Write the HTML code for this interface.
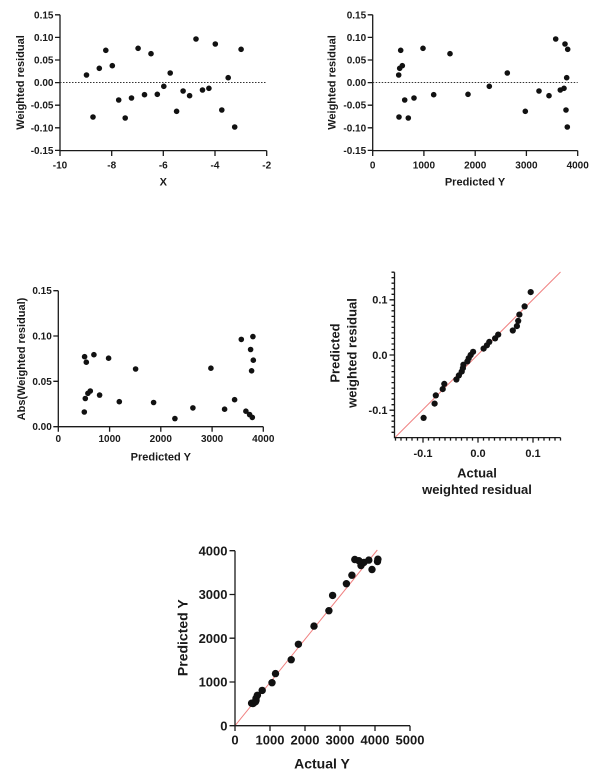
<!DOCTYPE html>
<html><head><meta charset="utf-8"><style>
html,body{margin:0;padding:0;background:#fff;}
svg{display:block;}
text{font-family:"Liberation Sans",Arial,sans-serif;font-weight:bold;fill:#1a1a1a;}
.t10{font-size:10px;}
.t11{font-size:11px;}
.t13{font-size:13px;}
.t14{font-size:14px;}
.ax{stroke:#1a1a1a;stroke-width:1.3;fill:none;}
.pt{fill:#111;}
</style></head><body>
<svg width="602" height="772" viewBox="0 0 602 772" xmlns="http://www.w3.org/2000/svg">

<!-- ========== Plot 1 ========== -->
<g>
<path class="ax" d="M60,14.8 V150.6 H266.7"/>
<path class="ax" d="M55,14.8H60 M55,37.4H60 M55,60H60 M55,82.6H60 M55,105.2H60 M55,127.8H60 M55,150.4H60"/>
<path class="ax" d="M60,150.6V156 M111.7,150.6V156 M163.3,150.6V156 M215,150.6V156 M266.7,150.6V156"/>
<line x1="60" y1="82.5" x2="266.7" y2="82.5" stroke="#333" stroke-width="1" stroke-dasharray="1.5 1.5"/>
<g class="t10" text-anchor="end">
<text x="53.5" y="14.8" dy=".35em">0.15</text>
<text x="53.5" y="37.4" dy=".35em">0.10</text>
<text x="53.5" y="60" dy=".35em">0.05</text>
<text x="53.5" y="82.6" dy=".35em">0.00</text>
<text x="53.5" y="105.2" dy=".35em">-0.05</text>
<text x="53.5" y="127.8" dy=".35em">-0.10</text>
<text x="53.5" y="150.4" dy=".35em">-0.15</text>
</g>
<g class="t10" text-anchor="middle">
<text x="60" y="165" dy=".35em">-10</text>
<text x="111.7" y="165" dy=".35em">-8</text>
<text x="163.3" y="165" dy=".35em">-6</text>
<text x="215" y="165" dy=".35em">-4</text>
<text x="266.7" y="165" dy=".35em">-2</text>
</g>
<text class="t11" x="163.3" y="181.7" dy=".35em" text-anchor="middle">X</text>
<text class="t11" transform="translate(20,82.5) rotate(-90)" dy=".35em" text-anchor="middle">Weighted residual</text>
<g class="pt">
<circle cx="86.5" cy="75" r="2.8"/><circle cx="93" cy="117" r="2.8"/><circle cx="99.3" cy="68.3" r="2.8"/>
<circle cx="105.8" cy="50.3" r="2.8"/><circle cx="112.3" cy="65.7" r="2.8"/><circle cx="118.7" cy="100" r="2.8"/>
<circle cx="125.2" cy="118" r="2.8"/><circle cx="131.5" cy="98" r="2.8"/><circle cx="138.1" cy="48.3" r="2.8"/>
<circle cx="144.5" cy="94.7" r="2.8"/><circle cx="151" cy="53.7" r="2.8"/><circle cx="157.3" cy="94.3" r="2.8"/>
<circle cx="163.8" cy="86.3" r="2.8"/><circle cx="170.2" cy="73" r="2.8"/><circle cx="176.6" cy="111.3" r="2.8"/>
<circle cx="183.1" cy="91" r="2.8"/><circle cx="189.6" cy="95.7" r="2.8"/><circle cx="196" cy="39" r="2.8"/>
<circle cx="202.5" cy="90" r="2.8"/><circle cx="208.9" cy="88.3" r="2.8"/><circle cx="215.3" cy="44" r="2.8"/>
<circle cx="221.8" cy="110" r="2.8"/><circle cx="228.2" cy="77.7" r="2.8"/><circle cx="234.7" cy="127" r="2.8"/>
<circle cx="241.1" cy="49.3" r="2.8"/>
</g>
</g>

<!-- ========== Plot 2 ========== -->
<g>
<path class="ax" d="M372.7,14.8 V150.6 H577.7"/>
<path class="ax" d="M367.7,14.8H372.7 M367.7,37.4H372.7 M367.7,60H372.7 M367.7,82.6H372.7 M367.7,105.2H372.7 M367.7,127.8H372.7 M367.7,150.4H372.7"/>
<path class="ax" d="M372.7,150.6V156 M423.9,150.6V156 M475.2,150.6V156 M526.4,150.6V156 M577.7,150.6V156"/>
<line x1="372.7" y1="82.5" x2="577.7" y2="82.5" stroke="#333" stroke-width="1" stroke-dasharray="1.5 1.5"/>
<g class="t10" text-anchor="end">
<text x="366.2" y="14.8" dy=".35em">0.15</text>
<text x="366.2" y="37.4" dy=".35em">0.10</text>
<text x="366.2" y="60" dy=".35em">0.05</text>
<text x="366.2" y="82.6" dy=".35em">0.00</text>
<text x="366.2" y="105.2" dy=".35em">-0.05</text>
<text x="366.2" y="127.8" dy=".35em">-0.10</text>
<text x="366.2" y="150.4" dy=".35em">-0.15</text>
</g>
<g class="t10" text-anchor="middle">
<text x="372.7" y="165" dy=".35em">0</text>
<text x="423.9" y="165" dy=".35em">1000</text>
<text x="475.2" y="165" dy=".35em">2000</text>
<text x="526.4" y="165" dy=".35em">3000</text>
<text x="577.7" y="165" dy=".35em">4000</text>
</g>
<text class="t11" x="475" y="181.7" dy=".35em" text-anchor="middle">Predicted Y</text>
<text class="t11" transform="translate(331.7,82.5) rotate(-90)" dy=".35em" text-anchor="middle">Weighted residual</text>
<g class="pt">
<circle cx="398.7" cy="75" r="2.8"/><circle cx="399" cy="117" r="2.8"/><circle cx="399.7" cy="68.3" r="2.8"/>
<circle cx="400.7" cy="50.3" r="2.8"/><circle cx="402.3" cy="65.7" r="2.8"/><circle cx="404.7" cy="100" r="2.8"/>
<circle cx="408.3" cy="118" r="2.8"/><circle cx="414" cy="98" r="2.8"/><circle cx="423" cy="48.3" r="2.8"/>
<circle cx="433.7" cy="94.7" r="2.8"/><circle cx="450" cy="53.7" r="2.8"/><circle cx="468" cy="94.3" r="2.8"/>
<circle cx="489.3" cy="86.3" r="2.8"/><circle cx="507.3" cy="73" r="2.8"/><circle cx="525.3" cy="111.3" r="2.8"/>
<circle cx="539" cy="91" r="2.8"/><circle cx="549" cy="95.7" r="2.8"/><circle cx="555.7" cy="39" r="2.8"/>
<circle cx="560.3" cy="90" r="2.8"/><circle cx="564" cy="88.3" r="2.8"/><circle cx="565" cy="44" r="2.8"/>
<circle cx="566" cy="110" r="2.8"/><circle cx="566.7" cy="77.7" r="2.8"/><circle cx="567.3" cy="127" r="2.8"/>
<circle cx="567.7" cy="49.3" r="2.8"/>
</g>
</g>

<!-- ========== Plot 3 ========== -->
<g>
<path class="ax" d="M58.3,290.7 V426.7 H263.3"/>
<path class="ax" d="M53.3,290.7H58.3 M53.3,336H58.3 M53.3,381.3H58.3 M53.3,426.7H58.3"/>
<path class="ax" d="M58.3,426.7V431.7 M109.6,426.7V431.7 M160.8,426.7V431.7 M212.1,426.7V431.7 M263.3,426.7V431.7"/>
<g class="t10" text-anchor="end">
<text x="51.8" y="290.7" dy=".35em">0.15</text>
<text x="51.8" y="336" dy=".35em">0.10</text>
<text x="51.8" y="381.3" dy=".35em">0.05</text>
<text x="51.8" y="426.7" dy=".35em">0.00</text>
</g>
<g class="t10" text-anchor="middle">
<text x="58.3" y="438.5" dy=".35em">0</text>
<text x="109.6" y="438.5" dy=".35em">1000</text>
<text x="160.8" y="438.5" dy=".35em">2000</text>
<text x="212.1" y="438.5" dy=".35em">3000</text>
<text x="263.3" y="438.5" dy=".35em">4000</text>
</g>
<text class="t11" x="160.8" y="456.7" dy=".35em" text-anchor="middle">Predicted Y</text>
<text class="t11" transform="translate(21,359) rotate(-90)" dy=".35em" text-anchor="middle">Abs(Weighted residual)</text>
<g class="pt">
<circle cx="84.3" cy="412" r="2.8"/><circle cx="84.6" cy="356.7" r="2.8"/><circle cx="85.3" cy="398.5" r="2.8"/>
<circle cx="86.3" cy="362.2" r="2.8"/><circle cx="87.9" cy="393.3" r="2.8"/><circle cx="90.3" cy="391" r="2.8"/>
<circle cx="93.9" cy="354.7" r="2.8"/><circle cx="99.6" cy="395.1" r="2.8"/><circle cx="108.6" cy="358.2" r="2.8"/>
<circle cx="119.3" cy="401.7" r="2.8"/><circle cx="135.6" cy="369" r="2.8"/><circle cx="153.6" cy="402.5" r="2.8"/>
<circle cx="174.9" cy="418.6" r="2.8"/><circle cx="192.9" cy="407.9" r="2.8"/><circle cx="210.9" cy="368.2" r="2.8"/>
<circle cx="224.6" cy="409.2" r="2.8"/><circle cx="234.6" cy="399.7" r="2.8"/><circle cx="241.3" cy="339.4" r="2.8"/>
<circle cx="245.9" cy="411.2" r="2.8"/><circle cx="249.6" cy="414.6" r="2.8"/><circle cx="250.6" cy="349.5" r="2.8"/>
<circle cx="251.6" cy="370.8" r="2.8"/><circle cx="252.3" cy="417.4" r="2.8"/><circle cx="252.9" cy="336.6" r="2.8"/>
<circle cx="253.3" cy="360.2" r="2.8"/>
</g>
</g>

<!-- ========== Plot 4 (QQ) ========== -->
<g>
<line x1="395" y1="437.5" x2="560.5" y2="272" stroke="#f08080" stroke-width="1"/>
<path class="ax" d="M394.5,272.2 V437.6 H560.5"/>
<path class="ax" stroke-width="1.1" d="
M391.5,272.2H394.5 M391.5,277.7H394.5 M391.5,283.2H394.5 M391.5,288.8H394.5 M391.5,294.3H394.5 M389.5,299.8H394.5
M391.5,305.3H394.5 M391.5,310.8H394.5 M391.5,316.4H394.5 M391.5,321.9H394.5 M391.5,327.4H394.5 M391.5,332.9H394.5
M391.5,338.4H394.5 M391.5,344H394.5 M391.5,349.5H394.5 M389.5,355H394.5 M391.5,360.5H394.5 M391.5,366H394.5
M391.5,371.6H394.5 M391.5,377.1H394.5 M391.5,382.6H394.5 M391.5,388.1H394.5 M391.5,393.6H394.5 M391.5,399.2H394.5
M391.5,404.7H394.5 M389.5,410.2H394.5 M391.5,415.7H394.5 M391.5,421.2H394.5 M391.5,426.8H394.5 M391.5,432.3H394.5"/>
<path class="ax" stroke-width="1.1" d="
M395.5,437.6V440.6 M401,437.6V440.6 M406.5,437.6V440.6 M412,437.6V440.6 M417.5,437.6V440.6 M423,437.6V442.6
M428.5,437.6V440.6 M434,437.6V440.6 M439.5,437.6V440.6 M445,437.6V440.6 M450.5,437.6V440.6 M456,437.6V440.6
M461.5,437.6V440.6 M467,437.6V440.6 M472.5,437.6V440.6 M478,437.6V442.6 M483.5,437.6V440.6 M489,437.6V440.6
M494.5,437.6V440.6 M500,437.6V440.6 M505.5,437.6V440.6 M511,437.6V440.6 M516.5,437.6V440.6 M522,437.6V440.6
M527.5,437.6V440.6 M533,437.6V442.6 M538.5,437.6V440.6 M544,437.6V440.6 M549.5,437.6V440.6 M555,437.6V440.6 M560.5,437.6V440.6"/>
<g class="t11" text-anchor="end">
<text x="387.5" y="299.8" dy=".35em">0.1</text>
<text x="387.5" y="355" dy=".35em">0.0</text>
<text x="387.5" y="410.2" dy=".35em">-0.1</text>
</g>
<g class="t11" text-anchor="middle">
<text x="423" y="453.3" dy=".35em">-0.1</text>
<text x="478" y="453.3" dy=".35em">0.0</text>
<text x="533" y="453.3" dy=".35em">0.1</text>
</g>
<text class="t13" x="477" y="472.7" dy=".35em" text-anchor="middle">Actual</text>
<text class="t13" x="477" y="489.3" dy=".35em" text-anchor="middle">weighted residual</text>
<text class="t13" transform="translate(335,353) rotate(-90)" dy=".35em" text-anchor="middle">Predicted</text>
<text class="t13" transform="translate(351.7,353) rotate(-90)" dy=".35em" text-anchor="middle">weighted residual</text>
<g class="pt">
<circle cx="423.6" cy="417.9" r="3.1"/><circle cx="434.6" cy="403.6" r="3.1"/><circle cx="435.8" cy="395.4" r="3.1"/>
<circle cx="442.7" cy="389.1" r="3.1"/><circle cx="444.3" cy="383.9" r="3.1"/><circle cx="456.4" cy="379.5" r="3.1"/>
<circle cx="458.9" cy="375.4" r="3.1"/><circle cx="461.7" cy="371.6" r="3.1"/><circle cx="462.9" cy="368.1" r="3.1"/>
<circle cx="463.4" cy="364.7" r="3.1"/><circle cx="467.4" cy="361.4" r="3.1"/><circle cx="468.7" cy="358.2" r="3.1"/>
<circle cx="470.7" cy="355" r="3.1"/><circle cx="473.1" cy="351.8" r="3.1"/><circle cx="483.6" cy="348.6" r="3.1"/>
<circle cx="486.9" cy="345.3" r="3.1"/><circle cx="489.3" cy="341.9" r="3.1"/><circle cx="495.1" cy="338.4" r="3.1"/>
<circle cx="498.2" cy="334.6" r="3.1"/><circle cx="512.8" cy="330.5" r="3.1"/><circle cx="516.9" cy="326.1" r="3.1"/>
<circle cx="518.2" cy="320.9" r="3.1"/><circle cx="519.4" cy="314.6" r="3.1"/><circle cx="524.6" cy="306.4" r="3.1"/>
<circle cx="530.7" cy="292.1" r="3.1"/>
</g>
</g>

<!-- ========== Plot 5 ========== -->
<g>
<line x1="235" y1="725.7" x2="377.3" y2="550" stroke="#f08080" stroke-width="1"/>
<path class="ax" d="M235,550.7 V725.7 H410"/>
<path class="ax" d="M229.5,550.7H235 M229.5,594.5H235 M229.5,638.2H235 M229.5,682H235 M229.5,725.7H235"/>
<path class="ax" d="M235,725.7V731 M270,725.7V731 M305,725.7V731 M340,725.7V731 M375,725.7V731 M410,725.7V731"/>
<g class="t13" text-anchor="end">
<text x="227.5" y="550.7" dy=".35em">4000</text>
<text x="227.5" y="594.5" dy=".35em">3000</text>
<text x="227.5" y="638.2" dy=".35em">2000</text>
<text x="227.5" y="682" dy=".35em">1000</text>
<text x="227.5" y="725.7" dy=".35em">0</text>
</g>
<g class="t13" text-anchor="middle">
<text x="235" y="740" dy=".35em">0</text>
<text x="270" y="740" dy=".35em">1000</text>
<text x="305" y="740" dy=".35em">2000</text>
<text x="340" y="740" dy=".35em">3000</text>
<text x="375" y="740" dy=".35em">4000</text>
<text x="410" y="740" dy=".35em">5000</text>
</g>
<text class="t14" x="322" y="763.5" dy=".35em" text-anchor="middle">Actual Y</text>
<text class="t14" transform="translate(182.7,637.7) rotate(-90)" dy=".35em" text-anchor="middle">Predicted Y</text>
<g class="pt">
<circle cx="253" cy="703.5" r="3.7"/><circle cx="251.6" cy="703.2" r="3.7"/><circle cx="254" cy="702.6" r="3.7"/>
<circle cx="255.5" cy="701.8" r="3.7"/><circle cx="256" cy="700.4" r="3.7"/><circle cx="256" cy="698.4" r="3.7"/>
<circle cx="257.4" cy="695.3" r="3.7"/><circle cx="262.2" cy="690.4" r="3.7"/><circle cx="272" cy="682.7" r="3.7"/>
<circle cx="275.5" cy="673.6" r="3.7"/><circle cx="291.2" cy="659.7" r="3.7"/><circle cx="298.4" cy="644.3" r="3.7"/>
<circle cx="314" cy="626.1" r="3.7"/><circle cx="328.9" cy="610.7" r="3.7"/><circle cx="332.6" cy="595.4" r="3.7"/>
<circle cx="346.4" cy="583.7" r="3.7"/><circle cx="351.9" cy="575.2" r="3.7"/><circle cx="372" cy="569.5" r="3.7"/>
<circle cx="361" cy="565.5" r="3.7"/><circle cx="363.9" cy="562.4" r="3.7"/><circle cx="377.5" cy="561.5" r="3.7"/>
<circle cx="358.9" cy="560.7" r="3.7"/><circle cx="368.8" cy="560.1" r="3.7"/><circle cx="354.8" cy="559.5" r="3.7"/>
<circle cx="377.9" cy="559.2" r="3.7"/>
</g>
</g>

</svg>
</body></html>
